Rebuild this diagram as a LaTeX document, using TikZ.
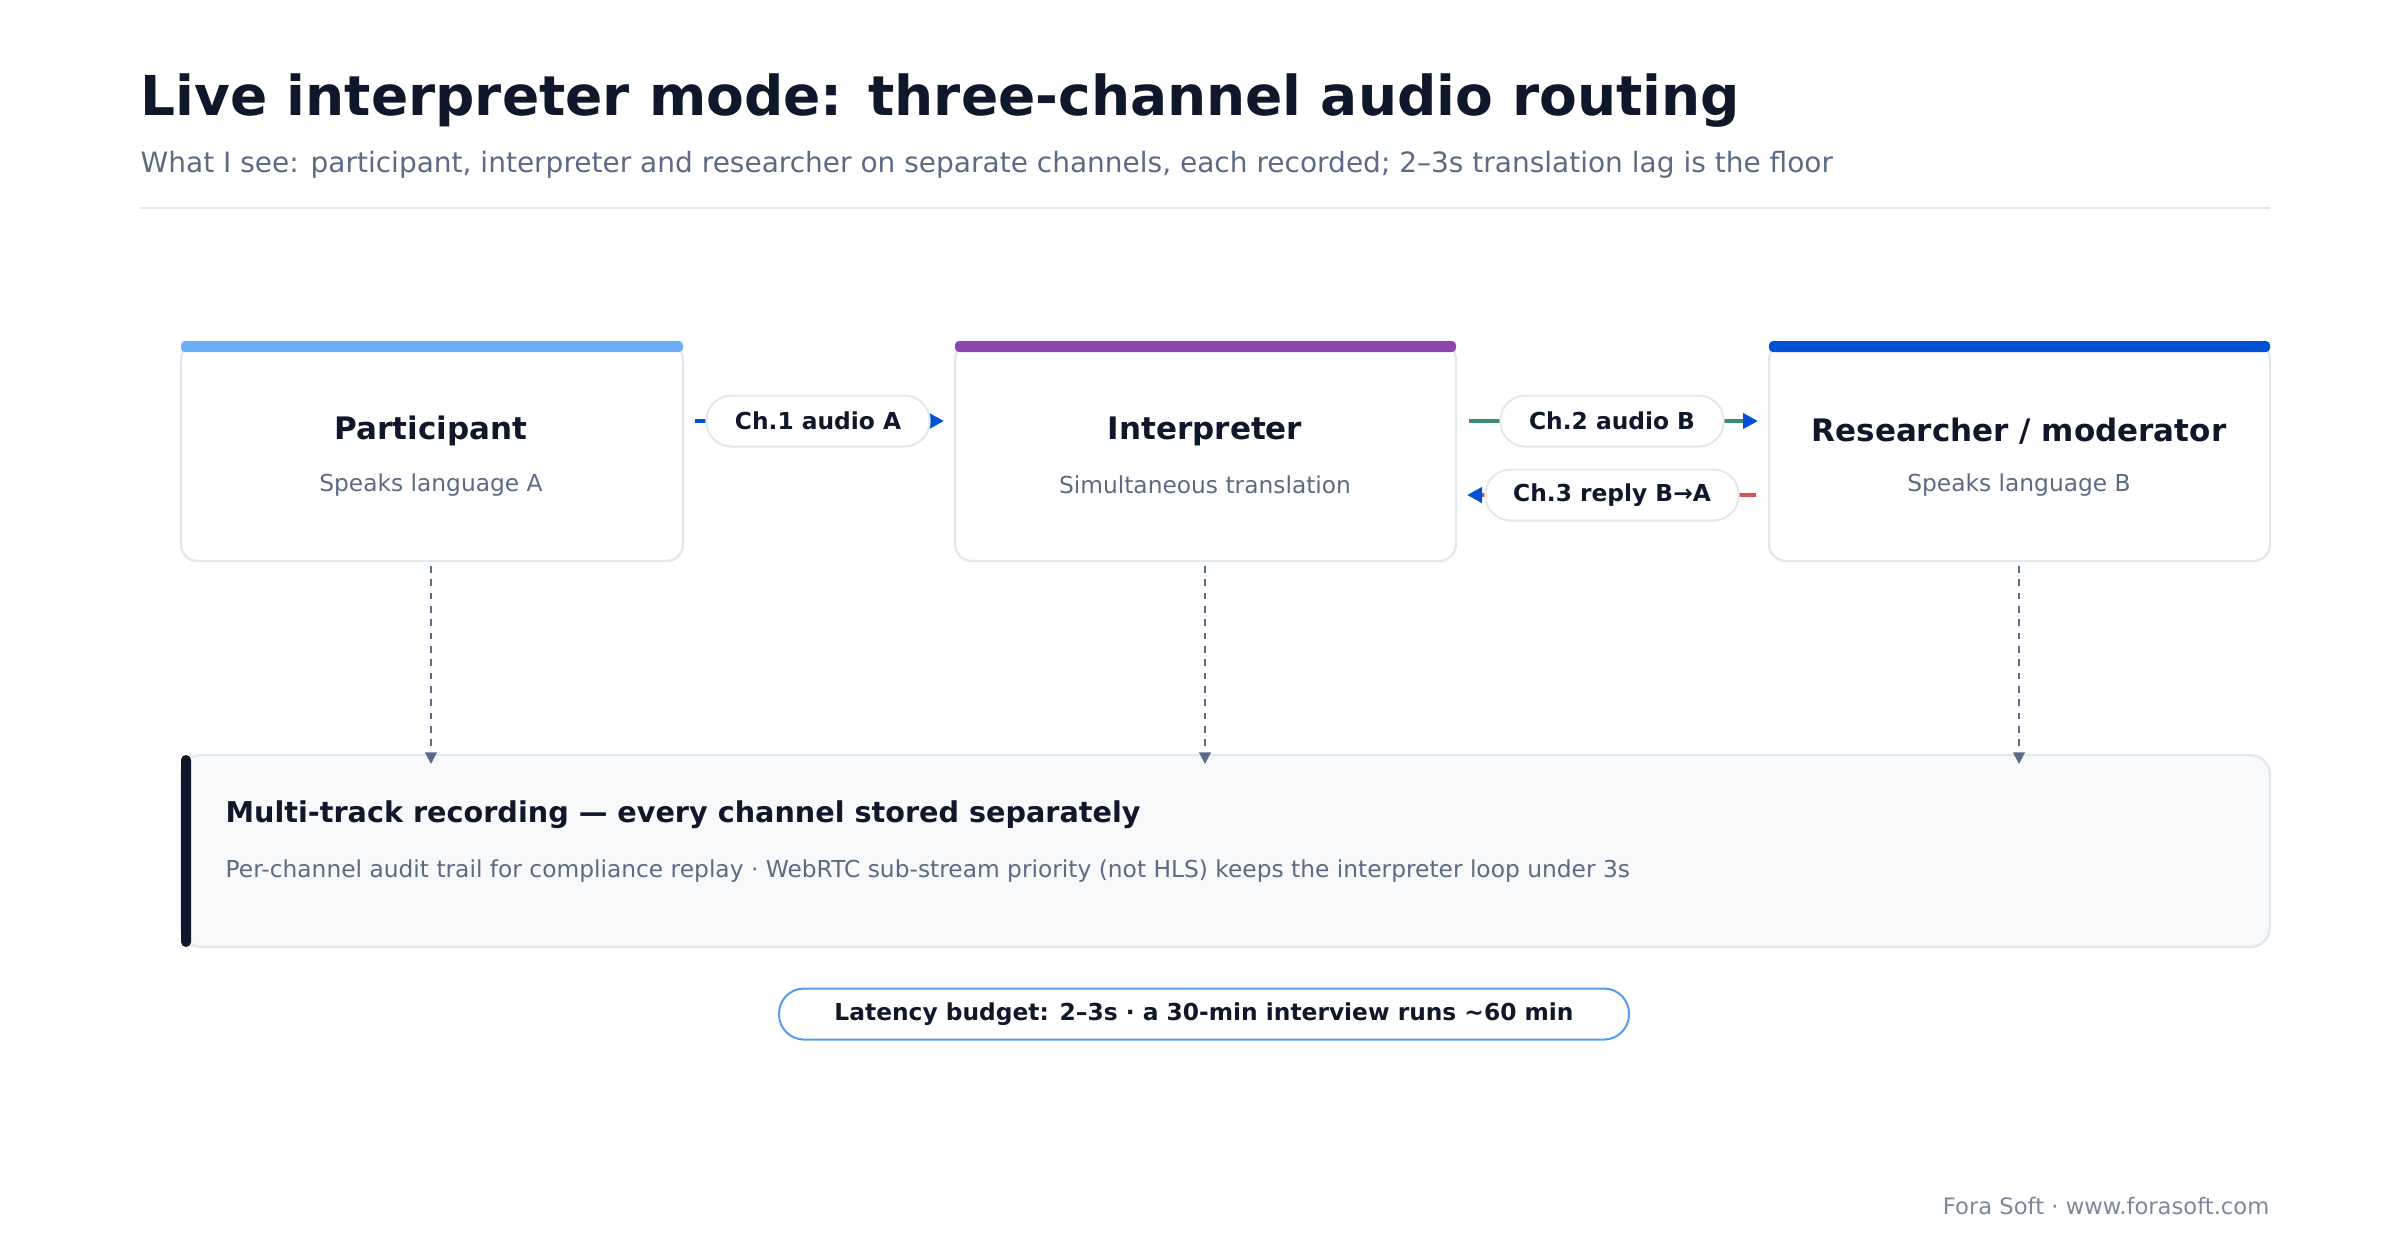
\documentclass[tikz,border=0pt]{standalone}
\usepackage{fontspec}
\setmainfont{DejaVu Sans}
\usetikzlibrary{arrows.meta}
\definecolor{ink}{HTML}{0F172A}
\definecolor{mute}{HTML}{5B6B85}
\definecolor{bord}{HTML}{E2E8F0}
\definecolor{lblue}{HTML}{6AAEF5}
\definecolor{purp}{HTML}{8E44AD}
\definecolor{dblue}{HTML}{0052D4}
\definecolor{grn}{HTML}{3A8F6A}
\definecolor{rd}{HTML}{D9534F}
\definecolor{panel}{HTML}{F7F9FB}
\begin{document}
\begin{tikzpicture}[x=0.3pt,y=-0.3pt,
  box/.style={draw=bord,line width=0.7pt,rounded corners=5pt,fill=white},
  bar/.style={fill=#1,rounded corners=1.2pt},
  btitle/.style={font=\fontsize{9.3}{11}\selectfont\bfseries,text=ink},
  bsub/.style={font=\fontsize{7}{9}\selectfont,text=mute},
  pill/.style={draw=bord,line width=0.6pt,fill=white,rounded corners=7.5pt,minimum height=15.3pt,inner xsep=6pt,font=\fontsize{7}{9}\selectfont\bfseries,text=ink},
  tip/.style={-{Triangle[length=4.5pt,width=4.5pt,fill=dblue,color=dblue]}},
  recarrow/.style={draw=mute,dash pattern=on 2pt off 2pt,line width=0.6pt,-{Triangle[length=3.5pt,width=3.5pt]}}]
\useasboundingbox (0,0) rectangle (2400,1248);
\node[anchor=base west,font=\fontsize{16.5}{20}\selectfont\bfseries,text=ink,inner sep=0] (t) at (140,115) {Live interpreter mode: three-channel audio routing};
\node[anchor=base west,font=\fontsize{8.4}{10}\selectfont,text=mute,inner sep=0] (st) at (140,172) {What I see: participant, interpreter and researcher on separate channels, each recorded; 2–3s translation lag is the floor};
\draw[bord,line width=0.7pt] (140,208) -- (2270,208);
% boxes
\foreach \n/\xa/\xb/\c in {p/181/683/lblue,i/955/1456/purp,r/1769/2270/dblue}{
  \draw[box] (\xa,343) rectangle (\xb,561);
  \fill[bar=\c] (\xa,341) rectangle (\xb,352);
}
\coordinate (ptop) at (431,566); \coordinate (pbot) at (431,764);
\coordinate (itop) at (1205,566); \coordinate (ibot) at (1205,764);
\coordinate (rtop) at (2019,566); \coordinate (rbot) at (2019,764);
\node[btitle] (pt) at (431,431) {Participant};
\node[bsub] (ps) at (431,485) {Speaks language A};
\node[btitle] (it) at (1205,431) {Interpreter};
\node[bsub] (is) at (1205,485) {Simultaneous translation};
\node[btitle] (rt) at (2019,431) {Researcher / moderator};
\node[bsub] (rs) at (2019,485) {Speaks language B};
% channel lines
\coordinate (a1) at (695,421); \coordinate (b1) at (944,421);
\coordinate (a2) at (1469,421); \coordinate (b2) at (1758,421);
\coordinate (a3) at (1756,495); \coordinate (b3) at (1467,495);
\draw[dblue,line width=1.2pt,tip] (a1) -- (b1);
\draw[grn,line width=1.2pt,tip] (a2) -- (b2);
\draw[rd,line width=1.2pt,tip] (a3) -- (b3);
\node[pill,minimum width=67pt] (c1) at (818,421) {Ch.1 audio A};
\node[pill,minimum width=67pt] (c2) at (1612,421) {Ch.2 audio B};
\node[pill,minimum width=76pt] (c3) at (1612,495) {Ch.3 reply B→A};
% bottom
\draw[draw=bord,fill=panel,line width=0.7pt,rounded corners=6pt] (181,755) rectangle (2270,947);
\fill[ink,rounded corners=1.5pt] (181,755) rectangle (191,947);
\node[anchor=base west,font=\fontsize{8.6}{10}\selectfont\bfseries,text=ink,inner sep=0] (mt) at (225,822) {Multi-track recording — every channel stored separately};
\node[anchor=base west,font=\fontsize{7}{9}\selectfont,text=mute,inner sep=0] (ms) at (225,877) {Per-channel audit trail for compliance replay · WebRTC sub-stream priority (not HLS) keeps the interpreter loop under 3s};
\draw[recarrow] (ptop) -- (pbot);
\draw[recarrow] (itop) -- (ibot);
\draw[recarrow] (rtop) -- (rbot);
\node[pill,draw=lblue!80!dblue,minimum width=255pt] (lat) at (1204,1014) {Latency budget: 2–3s · a 30-min interview runs \textasciitilde60 min};
\node[anchor=base east,font=\fontsize{6.8}{8}\selectfont,text=mute!80,inner sep=0] (ft) at (2270,1214) {Fora Soft · www.forasoft.com};
\end{tikzpicture}
\end{document}
